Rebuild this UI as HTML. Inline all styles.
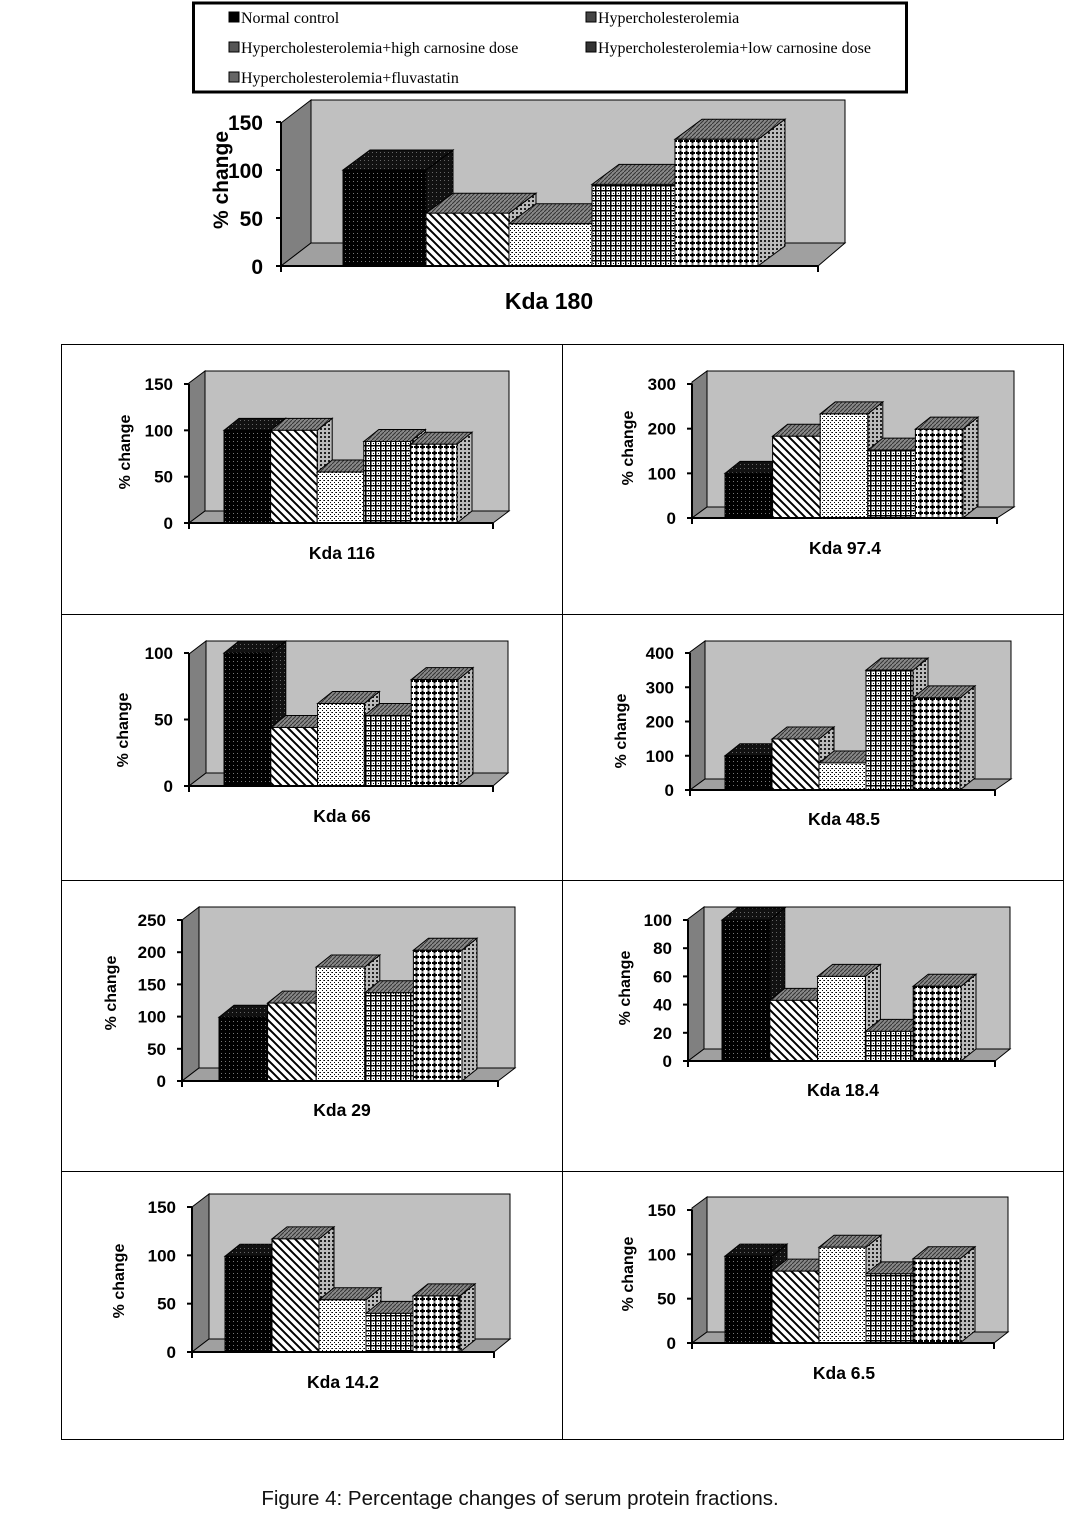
<!DOCTYPE html>
<html><head><meta charset="utf-8"><style>
html,body{margin:0;padding:0;background:#fff;width:1087px;height:1535px;overflow:hidden}
svg{display:block}
</style></head><body>
<svg id="s" width="1087" height="1535" xmlns="http://www.w3.org/2000/svg">
<defs>
<pattern id="p0" width="4" height="4" patternUnits="userSpaceOnUse"><rect width="4" height="4" fill="#000"/><rect x="1" y="1" width="1" height="1" fill="#777"/></pattern>
<pattern id="p1" width="8" height="8" patternUnits="userSpaceOnUse"><rect width="8" height="8" fill="#fff"/><path d="M-2,-2 L10,10 M-2,6 L2,10 M6,-2 L10,2" stroke="#000" stroke-width="2"/></pattern>
<pattern id="p2" width="4" height="4" patternUnits="userSpaceOnUse"><rect width="4" height="4" fill="#fff"/><rect x="0" y="0" width="1" height="1" fill="#000"/><rect x="2" y="2" width="1" height="1" fill="#000"/><rect x="3" y="0" width="1" height="1" fill="#555"/></pattern>
<pattern id="p3" width="5" height="5" patternUnits="userSpaceOnUse"><rect width="5" height="5" fill="#fff"/><rect x="0" y="0" width="5" height="1.5" fill="#000"/><rect x="0" y="0" width="1.5" height="5" fill="#000"/><rect x="3" y="3" width="1" height="1" fill="#000"/></pattern>
<pattern id="p4" width="6" height="6" patternUnits="userSpaceOnUse"><rect width="6" height="6" fill="#fff"/><rect x="0" y="2" width="5" height="2" fill="#000"/><rect x="1.5" y="0.5" width="2" height="5" fill="#000"/></pattern>
<pattern id="t" width="4" height="4" patternUnits="userSpaceOnUse"><rect width="4" height="4" fill="#888"/><path d="M0,4 L4,0" stroke="#333" stroke-width="1"/></pattern>
<pattern id="sd" width="4" height="4" patternUnits="userSpaceOnUse"><rect width="4" height="4" fill="#bbb"/><rect width="2" height="2" fill="#222"/></pattern>
<pattern id="sd0" width="4" height="4" patternUnits="userSpaceOnUse"><rect width="4" height="4" fill="#111"/><rect width="1" height="1" fill="#666"/></pattern>
</defs>
<g id="g"></g>
</svg>
<script>
var NS="http://www.w3.org/2000/svg",G=document.getElementById('g');
function el(t,a,txt){var e=document.createElementNS(NS,t);for(var k in a)e.setAttribute(k,a[k]);if(txt!=null)e.textContent=txt;G.appendChild(e);return e;}
function pg(pts,f,sw){return el('polygon',{points:pts.map(function(p){return p.join(',')}).join(' '),fill:f,stroke:'#000','stroke-width':sw||1});}
function chart(o){
 var ax=o.ax,y0=o.y0,yt=o.yt,wl=o.wl,wr=o.wr,wt=o.wt,fr=o.fr;
 var dxw=wl-ax,dyw=Math.round(dxw*0.75),fb=y0-dyw;
 pg([[ax,y0],[wl,fb],[wl,wt],[ax,wt+dyw]],'#808080',1);
 pg([[wl,wt],[wr,wt],[wr,fb],[wl,fb]],'#c0c0c0',1);
 pg([[ax,y0],[fr,y0],[wr,fb],[wl,fb]],'#a0a0a0',1);
 var sc=(y0-yt)/o.max,bdx=o.bdx,bdy=o.bdy,pats=['p0','p1','p2','p3','p4'];
 for(var i=0;i<o.v.length;i++){
  var x=o.bx+i*o.bw,x2=x+o.bw,y=y0-o.v[i]*sc;
  pg([[x2,y],[x2+bdx,y-bdy],[x2+bdx,y0-bdy],[x2,y0]],i==0?'url(#sd0)':'url(#sd)',1);
  pg([[x,y],[x+bdx,y-bdy],[x2+bdx,y-bdy],[x2,y]],i==0?'url(#sd0)':'url(#t)',1);
  el('rect',{x:x,y:y,width:o.bw,height:y0-y,fill:'url(#'+pats[i]+')',stroke:'#000','stroke-width':1});
 }
 el('line',{x1:ax,y1:y0,x2:ax,y2:yt,stroke:'#000','stroke-width':2});
 el('line',{x1:ax,y1:y0,x2:fr,y2:y0,stroke:'#000','stroke-width':2});
 el('line',{x1:fr,y1:y0,x2:fr,y2:y0+6,stroke:'#000','stroke-width':2});
 el('line',{x1:ax,y1:y0,x2:ax,y2:y0+6,stroke:'#000','stroke-width':2});
 for(var k=0;k<=o.max;k+=o.step){var yy=y0-k*sc;
  el('line',{x1:ax-5,y1:yy,x2:ax,y2:yy,stroke:'#000','stroke-width':2});
  el('text',{x:ax-(o.big?18:16),y:yy+(o.big?8:6),'text-anchor':'end','font-family':'Liberation Sans,sans-serif','font-weight':'bold','font-size':o.big?21:17},k);}
 var lx=o.lx,ly=o.ly;
 el('text',{x:lx,y:ly,transform:'rotate(-90 '+lx+' '+ly+')','text-anchor':'middle','font-family':'Liberation Sans,sans-serif','font-weight':'bold','font-size':o.big?21:16},'% change');
 el('text',{x:o.tx,y:o.ty,'text-anchor':'middle','font-family':'Liberation Sans,sans-serif','font-weight':'bold','font-size':o.big?23:17.5},o.title);
}
el('rect',{x:193.5,y:3,width:713,height:89,fill:'#fff',stroke:'#000','stroke-width':3});
var L=[['Normal control',229,18,'#000'],['Hypercholesterolemia',586,18,'#444'],['Hypercholesterolemia+high carnosine dose',229,48,'#555'],['Hypercholesterolemia+low carnosine dose',586,48,'#333'],['Hypercholesterolemia+fluvastatin',229,78,'#666']];
L.forEach(function(l){el('rect',{x:l[1],y:l[2]-6,width:10,height:10,fill:l[3],stroke:'#000','stroke-width':1});
 el('text',{x:l[1]+12,y:l[2]+5,'font-family':'Liberation Serif,serif','font-size':16},l[0]);});
el('rect',{x:61.5,y:344.5,width:1002,height:1095,fill:'none',stroke:'#000','stroke-width':1});
[614,880,1171].forEach(function(y){el('line',{x1:61,y1:y+.5,x2:1064,y2:y+.5,stroke:'#000'});});
el('line',{x1:562.5,y1:344,x2:562.5,y2:1440,stroke:'#000'});
chart({ax:281,y0:266,yt:122,max:150,step:50,wl:311,wr:845,wt:100,fr:818,bx:343,bw:83,bdx:27,bdy:20,v:[100,55,44,85,132],big:1,lx:228,ly:180,tx:549,ty:309,title:'Kda 180'});
chart({ax:189,y0:523,yt:384,max:150,step:50,wl:205,wr:509,wt:371,fr:493,bx:224,bw:46.6,bdx:15,bdy:12,v:[100,100,55,88,85],lx:130,ly:452,tx:342,ty:559,title:'Kda 116'});
chart({ax:692,y0:518,yt:384,max:300,step:100,wl:707,wr:1014,wt:371,fr:997,bx:725,bw:47.6,bdx:15,bdy:12,v:[100,183,233,152,199],lx:633,ly:448,tx:845,ty:554,title:'Kda 97.4'});
chart({ax:189,y0:786,yt:653,max:100,step:50,wl:206,wr:508,wt:641,fr:493,bx:224,bw:46.8,bdx:15,bdy:12,v:[100,44,62,53,80],lx:128,ly:730,tx:342,ty:822,title:'Kda 66'});
chart({ax:690,y0:790,yt:653,max:400,step:100,wl:705,wr:1011,wt:641,fr:995,bx:725,bw:47,bdx:15,bdy:12,v:[100,149,79,350,269],lx:626,ly:731,tx:844,ty:825,title:'Kda 48.5'});
chart({ax:182,y0:1081,yt:920,max:250,step:50,wl:199,wr:515,wt:907,fr:498,bx:219,bw:48.6,bdx:15,bdy:12,v:[99,121,177,137,203],lx:116,ly:993,tx:342,ty:1116,title:'Kda 29'});
chart({ax:688,y0:1061,yt:920,max:100,step:20,wl:704,wr:1010,wt:907,fr:995,bx:722,bw:47.8,bdx:15,bdy:12,v:[100,43,60,21,53],lx:630,ly:988,tx:843,ty:1096,title:'Kda 18.4'});
chart({ax:192,y0:1352,yt:1207,max:150,step:50,wl:209,wr:510,wt:1194,fr:494,bx:225,bw:47,bdx:15,bdy:12,v:[99,117,54,40,58],lx:124,ly:1281,tx:343,ty:1388,title:'Kda 14.2'});
chart({ax:692,y0:1343,yt:1210,max:150,step:50,wl:707,wr:1008,wt:1197,fr:994,bx:725,bw:47,bdx:15,bdy:12,v:[98,81,108,78,95],lx:633,ly:1274,tx:844,ty:1379,title:'Kda 6.5'});
el('text',{x:520,y:1505,'text-anchor':'middle','font-family':'Liberation Sans,sans-serif','font-size':20.5,'fill':'#111'},'Figure 4: Percentage changes of serum protein fractions.');
</script>
</body></html>
